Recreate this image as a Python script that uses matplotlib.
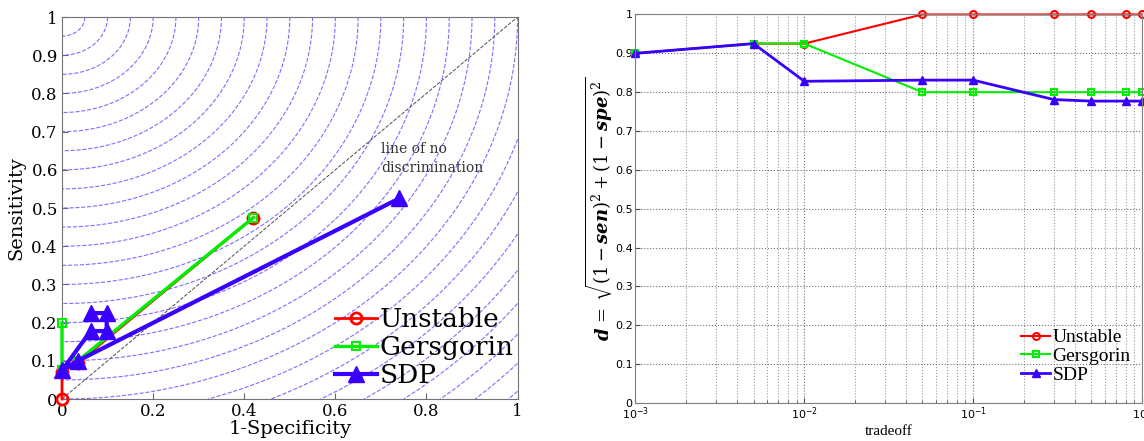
import numpy as np
import matplotlib
matplotlib.use("Agg")
import matplotlib.pyplot as plt
from matplotlib.ticker import LogLocator, NullFormatter

plt.rcParams["mathtext.fontset"] = "dejavuserif"

# ROC points (left panel)
unstable_x = [0.42, 0.035, 0.0, 0.0]
unstable_y = [0.475, 0.095, 0.07, 0.0]
gers_x = [0.42, 0.035, 0.0, 0.0]
gers_y = [0.475, 0.10, 0.075, 0.20]
sdp_x = [0.74, 0.035, 0.0, 0.063, 0.098, 0.098, 0.063]
sdp_y = [0.525, 0.10, 0.075, 0.178, 0.178, 0.225, 0.225]

# distance vs tradeoff (right panel)
tradeoff = [1e-3, 5e-3, 1e-2, 5e-2, 1e-1, 3e-1, 5e-1, 8e-1, 1.0]
d_unstable = [0.90, 0.925, 0.925, 1.0, 1.0, 1.0, 1.0, 1.0, 1.0]
d_gers = [0.90, 0.925, 0.925, 0.80, 0.80, 0.80, 0.80, 0.80, 0.80]
d_sdp = [0.90, 0.925, 0.828, 0.831, 0.831, 0.781, 0.777, 0.777, 0.777]

RED = "#ff0000"
GREEN = "#00ee00"
BLUE = "#3a00ff"

fig = plt.figure(figsize=(11.44, 4.41), dpi=100)

# ---------------- left: ROC space ----------------
ax1 = fig.add_axes([0.0542, 0.0952, 0.3982, 0.8662])
gx, gy = np.meshgrid(np.linspace(0, 1, 400), np.linspace(0, 1, 400))
dist = np.sqrt(gx ** 2 + (1 - gy) ** 2)
ax1.contour(gx, gy, dist, levels=np.arange(0.05, 1.45, 0.05),
            colors=[(0.42, 0.32, 1.0)], linestyles="--", linewidths=0.8, alpha=0.85)
ax1.plot([0, 1], [0, 1], "--", color="0.3", lw=0.7)

ax1.plot(unstable_x, unstable_y, "-o", color=RED, lw=2, ms=8, mfc="none", mew=2,
         label="Unstable", clip_on=False, zorder=3)
ax1.plot(gers_x, gers_y, "-s", color=GREEN, lw=2.4, ms=6, mfc="none", mew=1.5,
         label="Gersgorin", clip_on=False, zorder=4)
ax1.plot(sdp_x, sdp_y, "-^", color=BLUE, lw=3, ms=12, label="SDP",
         clip_on=False, zorder=5)

ax1.text(0.70, 0.645, "line of no", family="DejaVu Serif", fontsize=10, color="0.2")
ax1.text(0.70, 0.595, "discrimination", family="DejaVu Serif", fontsize=10, color="0.2")

ax1.set_xlim(0, 1)
ax1.set_ylim(0, 1)
ax1.set_xticks([0, 0.2, 0.4, 0.6, 0.8, 1])
ax1.set_xticklabels(["0", "0.2", "0.4", "0.6", "0.8", "1"])
ax1.set_yticks(np.arange(0, 1.01, 0.1))
ax1.set_yticklabels(["0", "0.1", "0.2", "0.3", "0.4", "0.5", "0.6", "0.7", "0.8", "0.9", "1"])
ax1.tick_params(direction="in", length=4, labelsize=12, pad=3, color="0.4")
for lab in ax1.get_xticklabels() + ax1.get_yticklabels():
    lab.set_family("DejaVu Serif")
ax1.set_xlabel("1-Specificity", family="DejaVu Serif", fontsize=14, labelpad=0)
ax1.set_ylabel("Sensitivity", family="DejaVu Serif", fontsize=14, labelpad=4)
for s in ax1.spines.values():
    s.set_color("0.45")
ax1.legend(loc="lower right", frameon=False, prop={"family": "DejaVu Serif", "size": 19},
           handlelength=1.6, handletextpad=0.1, labelspacing=0.12, borderaxespad=0.0,
           bbox_to_anchor=(1.015, 0.0))

# ---------------- right: distance vs tradeoff ----------------
ax2 = fig.add_axes([0.5555, 0.0862, 0.4428, 0.881])
ax2.semilogx(tradeoff, d_unstable, "-o", color=RED, lw=1.5, ms=5, mfc="none", mew=1.5,
             label="Unstable", clip_on=False)
ax2.semilogx(tradeoff, d_gers, "-s", color=GREEN, lw=1.5, ms=5, mfc="none", mew=1.5,
             label="Gersgorin", clip_on=False)
ax2.semilogx(tradeoff, d_sdp, "-^", color=BLUE, lw=2, ms=6, label="SDP", clip_on=False)

ax2.set_xlim(1e-3, 1.0)
ax2.set_ylim(0, 1)
ax2.set_yticks(np.arange(0, 1.01, 0.1))
ax2.set_yticklabels(["0", "0.1", "0.2", "0.3", "0.4", "0.5", "0.6", "0.7", "0.8", "0.9", "1"])
ax2.xaxis.set_minor_locator(LogLocator(base=10, subs=np.arange(2, 10)))
ax2.xaxis.set_minor_formatter(NullFormatter())
ax2.grid(True, which="major", ls=":", color="0.45", lw=0.8)
ax2.grid(True, which="minor", axis="x", ls=":", color="0.6", lw=0.8)
ax2.tick_params(which="both", direction="in", labelsize=8, pad=2, color="0.3")
ax2.tick_params(which="minor", length=2)
for s in ax2.spines.values():
    s.set_color("0.5")
ax2.set_xlabel("tradeoff", family="Liberation Serif", fontsize=11, labelpad=2)
ax2.set_ylabel(r"$\mathbfit{d}\, =\, \sqrt{(1-\mathbfit{sen})^2+(1-\mathbfit{spe})^2}$",
               fontsize=13, labelpad=0)
ax2.legend(loc="lower right", frameon=False, prop={"family": "Liberation Serif", "size": 14},
           handlelength=1.5, handletextpad=0.1, labelspacing=0.05, borderaxespad=0.2,
           bbox_to_anchor=(1.0, 0.02))

fig.savefig("out.png", dpi=100)
